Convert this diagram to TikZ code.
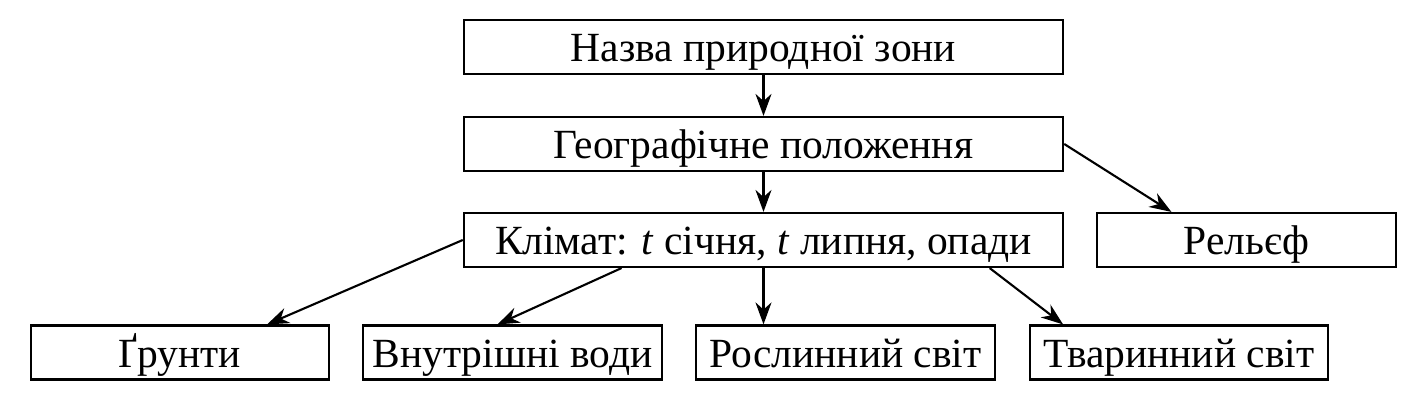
\documentclass[tikz,border=0pt]{standalone}
\usepackage{fontspec}
\setmainfont{Liberation Serif}
\usetikzlibrary{positioning,calc,arrows.meta}

\tikzset{
    zbox/.style={draw, line width=0.6pt, minimum height=0.54cm, inner sep=0pt,
        text height=8.5pt, text depth=0pt, font=\fontsize{11.8}{13}\selectfont},
    widebox/.style={zbox, minimum width=5.99cm},
    smallbox/.style={zbox, minimum width=2.98cm},
    arr/.style={-{Stealth[length=2.2mm,width=1.6mm]}, line width=0.6pt}
}

\begin{document}
\begin{tikzpicture}[x=0.01cm,y=-0.01cm]
    \useasboundingbox (0,0) rectangle (1417,404);

    % main column
    \node[widebox] (zona) at (763.5,47) {Назва природної зони};
    \node[widebox] (polozh) at (763.5,144) {Географічне положення};
    \node[widebox] (klimat) at (763.5,240) {Клімат: \textit{t} січня, \textit{t} липня, опади};
    \node[smallbox] (relief) at (1246.5,240) {Рельєф};

    % bottom row
    \node[smallbox] (grunty) at (180,352.5) {Ґрунти};
    \node[smallbox] (vody) at (512.5,352.5) {Внутрішні води};
    \node[smallbox] (roslyn) at (845.5,352.5) {Рослинний світ};
    \node[smallbox] (tvaryn) at (1179,352.5) {Тваринний світ};

    % arrows
    \draw[arr] (zona) -- (polozh);
    \draw[arr] (polozh) -- (klimat);
    \draw[arr] (polozh.east) -- ($(relief.north west)!0.25!(relief.north east)$);
    \draw[arr] (klimat.west) -- ($(grunty.north west)!0.79!(grunty.north east)$);
    \draw[arr] ($(klimat.south west)!0.264!(klimat.south east)$) -- ($(vody.north west)!0.45!(vody.north east)$);
    \draw[arr] (klimat.south) -- (klimat.south |- roslyn.north);
    \draw[arr] ($(klimat.south west)!0.876!(klimat.south east)$) -- ($(tvaryn.north west)!0.114!(tvaryn.north east)$);
\end{tikzpicture}
\end{document}
